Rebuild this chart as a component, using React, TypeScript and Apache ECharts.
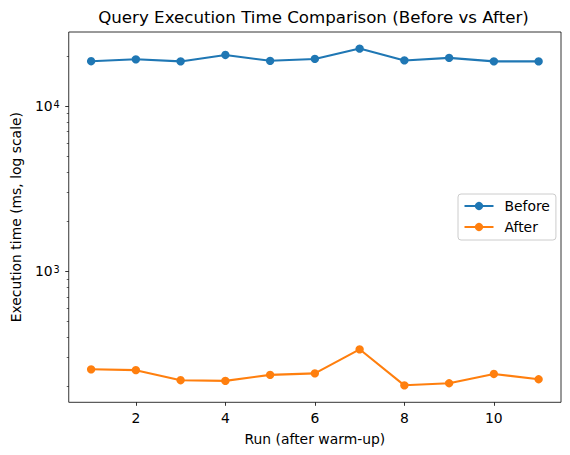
import React, { useEffect, useRef } from "react";
import * as echarts from "echarts";

const runs = [1, 2, 3, 4, 5, 6, 7, 8, 9, 10, 11];
const before = [18700, 19200, 18650, 20400, 18800, 19300, 22300, 18900, 19600, 18650, 18650];
const after = [255, 252, 219, 217, 236, 241, 337, 204, 210, 239, 222];
const xTicks = [2, 4, 6, 8, 10];
const yMajorTicks = [1000, 10000];
const yMinorTicks = [200, 300, 400, 500, 600, 700, 800, 900, 2000, 3000, 4000, 5000, 6000, 7000, 8000, 9000, 20000];

const FONT = "DejaVu Sans";

export default function App() {
  const ref = useRef<HTMLDivElement>(null);
  useEffect(() => {
    const chart = echarts.init(ref.current!, null, { renderer: "svg" });
    chart.setOption({
      animation: false,
      backgroundColor: "#ffffff",
      textStyle: { fontFamily: FONT },
      graphic: [
        {
          type: "text",
          x: 313.5,
          y: 17.5,
          style: {
            text: "Query Execution Time Comparison (Before vs After)",
            fill: "#000",
            fontSize: 16.67,
            fontFamily: FONT,
            textAlign: "center",
            textVerticalAlign: "middle",
            align: "center",
            verticalAlign: "middle",
          },
        },
      ],
      grid: {
        left: 66,
        right: 9,
        top: 32,
        bottom: 52.7,
        show: true,
        borderColor: "#000",
        borderWidth: 0.8,
        backgroundColor: "transparent",
        containLabel: false,
      },
      legend: {
        orient: "vertical",
        left: 458,
        top: 194,
        data: ["Before", "After"],
        itemWidth: 29,
        itemHeight: 10.4,
        itemGap: 7,
        padding: [5, 6, 6, 5.5],
        backgroundColor: "rgba(255,255,255,0.8)",
        borderColor: "#cccccc",
        borderWidth: 1,
        borderRadius: 3,
        textStyle: {
          fontSize: 13.9,
          fontFamily: FONT,
          color: "#000",
          lineHeight: 14,
          padding: [0, 0, 0, 6],
        },
      },
      xAxis: {
        type: "value",
        min: 0.5,
        max: 11.5,
        name: "Run (after warm-up)",
        nameLocation: "middle",
        nameGap: 27,
        nameTextStyle: { fontSize: 13.9, fontFamily: FONT, color: "#000", lineHeight: 16 },
        axisLine: { show: false },
        splitLine: { show: false },
        axisTick: {
          show: true,
          length: 3.5,
          customValues: xTicks,
          lineStyle: { color: "#000", width: 0.8 },
        },
        axisLabel: {
          customValues: xTicks,
          margin: 7.5,
          fontSize: 13.9,
          fontFamily: FONT,
          color: "#000",
          lineHeight: 16,
        },
      },
      yAxis: [
        {
          type: "log",
          logBase: 10,
          min: 161,
          max: 28100,
          name: "Execution time (ms, log scale)",
          nameLocation: "middle",
          nameGap: 40.7,
          nameTextStyle: { fontSize: 13.9, fontFamily: FONT, color: "#000", lineHeight: 16 },
          axisLine: { show: false },
          splitLine: { show: false },
          axisTick: {
            show: true,
            length: 3.5,
            customValues: yMajorTicks,
            lineStyle: { color: "#000", width: 0.8 },
          },
          axisLabel: {
            customValues: yMajorTicks,
            margin: 9,
            formatter: (v: number) => `{b|10}{s|${Math.round(Math.log10(v))}}`,
            rich: {
              b: { fontSize: 13.9, fontFamily: FONT, color: "#000", lineHeight: 14, verticalAlign: "bottom" },
              s: {
                fontSize: 9.7,
                fontFamily: FONT,
                color: "#000",
                lineHeight: 10,
                verticalAlign: "top",
                padding: [0, 0, 7, 1],
              },
            },
          },
        },
        {
          type: "log",
          logBase: 10,
          min: 161,
          max: 28100,
          position: "left",
          axisLine: { show: false },
          splitLine: { show: false },
          axisLabel: { show: false },
          axisTick: {
            show: true,
            length: 2,
            customValues: yMinorTicks,
            lineStyle: { color: "#000", width: 0.6 },
          },
        },
      ],
      series: [
        {
          name: "Before",
          type: "line",
          yAxisIndex: 0,
          data: runs.map((r, i) => [r, before[i]]),
          symbol: "circle",
          symbolSize: 8.33,
          color: "#1f77b4",
          lineStyle: { width: 2.08, color: "#1f77b4" },
          itemStyle: { color: "#1f77b4" },
        },
        {
          name: "After",
          type: "line",
          yAxisIndex: 0,
          data: runs.map((r, i) => [r, after[i]]),
          symbol: "circle",
          symbolSize: 8.33,
          color: "#ff7f0e",
          lineStyle: { width: 2.08, color: "#ff7f0e" },
          itemStyle: { color: "#ff7f0e" },
        },
      ],
    });
    return () => chart.dispose();
  }, []);
  return <div ref={ref} style={{ width: 570, height: 455, position: "absolute", left: 0, top: 0 }} />;
}
